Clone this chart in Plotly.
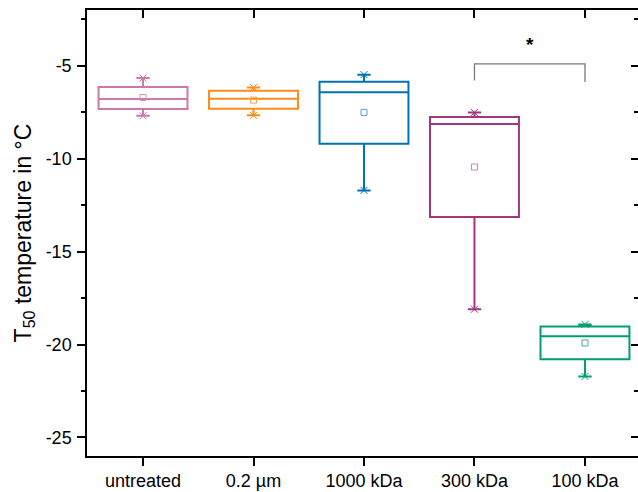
import plotly.graph_objects as go

# Freezing data: T50 temperatures per filtration treatment
categories = ["untreated", "0.2 µm", "1000 kDa", "300 kDa", "100 kDa"]
whisker_low = [-7.69, -7.67, -11.71, -18.10, -21.72]
q1 = [-7.33, -7.31, -9.20, -13.14, -20.79]
median = [-6.79, -6.78, -6.43, -8.14, -19.55]
q3 = [-6.15, -6.35, -5.86, -7.76, -19.03]
whisker_high = [-5.66, -6.17, -5.48, -7.51, -18.92]
mean = [-6.71, -6.85, -7.51, -10.45, -19.92]

# y tick positions and their labels (plain hyphen minus)
y_ticks = [-25, -20, -15, -10, -5]
y_tick_labels = ["-25", "-20", "-15", "-10", "-5"]

box_colors = ["#CC79A7", "#FF8C1A", "#0072B2", "#A3367F", "#009E73"]
mean_colors = ["#D98FB8", "#FFA04A", "#5AA0D0", "#D67CB0", "#3DB391"]

# Significance bracket between 300 kDa and 100 kDa
sig_pair = [3, 4]
sig_level = -4.9
sig_leg_ends = [-5.79, -5.88]
sig_label = "*"

FONT = "Liberation Sans, Arial, sans-serif"

fig = go.Figure()

for i, cat in enumerate(categories):
    fig.add_trace(go.Box(
        x=[i],
        q1=[q1[i]], median=[median[i]], q3=[q3[i]],
        lowerfence=[whisker_low[i]], upperfence=[whisker_high[i]],
        width=0.805,
        whiskerwidth=0.15,
        fillcolor="rgba(255,255,255,0)",
        line=dict(color=box_colors[i], width=2),
        boxpoints=False,
        showlegend=False,
        hoverinfo="skip",
    ))
    # min / max markers at the whisker ends
    fig.add_trace(go.Scatter(
        x=[i, i], y=[whisker_low[i], whisker_high[i]],
        mode="markers",
        marker=dict(symbol="x-thin-open", size=7, color=box_colors[i],
                    line=dict(color=box_colors[i], width=1)),
        showlegend=False, hoverinfo="skip",
    ))
    # mean marker
    fig.add_trace(go.Scatter(
        x=[i], y=[mean[i]],
        mode="markers",
        marker=dict(symbol="square-open", size=6, color=mean_colors[i],
                    line=dict(color=mean_colors[i], width=1)),
        showlegend=False, hoverinfo="skip",
    ))

# bracket + star
fig.add_trace(go.Scatter(
    x=[sig_pair[0], sig_pair[0], sig_pair[1], sig_pair[1]],
    y=[sig_leg_ends[0], sig_level, sig_level, sig_leg_ends[1]],
    mode="lines",
    line=dict(color="#7a7a7a", width=1.3),
    showlegend=False, hoverinfo="skip",
))
fig.add_annotation(
    x=(sig_pair[0] + sig_pair[1]) / 2, y=-3.85,
    text="<b>" + sig_label + "</b>", showarrow=False,
    font=dict(family=FONT, size=19, color="black"),
)

# dummy trace so the mirrored top/right axes are drawn
fig.add_trace(go.Scatter(x=[0], y=[-10], xaxis="x2", yaxis="y2",
                         mode="markers", marker=dict(opacity=0),
                         showlegend=False, hoverinfo="skip"))

xr = [-0.507, 4.48]
yr = [-26, -2]

fig.update_layout(
    width=638, height=492,
    margin=dict(l=87, r=0, t=10, b=36),
    plot_bgcolor="white", paper_bgcolor="white",
    font=dict(family=FONT, size=18, color="black"),
    xaxis=dict(
        range=xr, tickmode="array", tickvals=list(range(len(categories))),
        ticktext=categories,
        showline=True, linecolor="black", linewidth=1.5,
        ticks="outside", ticklen=8, tickwidth=1.5, tickcolor="black",
        showgrid=False, zeroline=False,
        tickfont=dict(family=FONT, size=18),
    ),
    xaxis2=dict(
        range=xr, overlaying="x", side="top",
        tickmode="array", tickvals=list(range(len(categories))),
        showticklabels=False,
        showline=True, linecolor="black", linewidth=1.5,
        ticks="inside", ticklen=8, tickwidth=1.5, tickcolor="black",
        showgrid=False, zeroline=False,
    ),
    yaxis=dict(
        range=yr, tickmode="array", tickvals=y_ticks, ticktext=y_tick_labels,
        showline=True, linecolor="black", linewidth=1.5,
        ticks="outside", ticklen=8, tickwidth=1.5, tickcolor="black",
        minor=dict(dtick=2.5, tick0=-25, ticks="outside", ticklen=4,
                   tickwidth=1.5, tickcolor="black", showgrid=False),
        showgrid=False, zeroline=False,
        tickfont=dict(family=FONT, size=18),
        ticklabelstandoff=2,
        title=dict(text="T<sub>50</sub> temperature in °C",
                   font=dict(family=FONT, size=23), standoff=8),
    ),
    yaxis2=dict(
        range=yr, overlaying="y", side="right",
        tickmode="array", tickvals=y_ticks,
        showticklabels=False, showline=False,
        ticks="inside", ticklen=7, tickwidth=1.5, tickcolor="black",
        minor=dict(dtick=2.5, tick0=-25, ticks="inside", ticklen=4,
                   tickwidth=1.5, tickcolor="black", showgrid=False),
        showgrid=False, zeroline=False,
    ),
)

fig.write_html("out.html")
